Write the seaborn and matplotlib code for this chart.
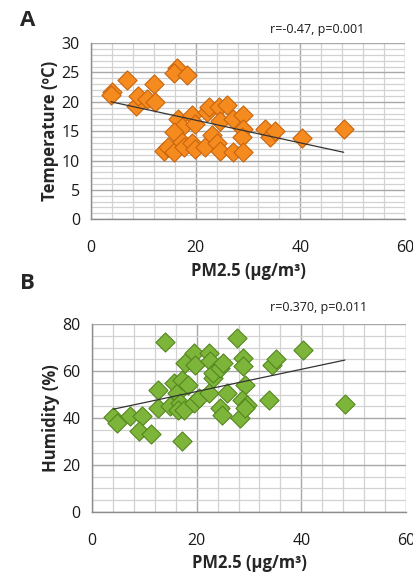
import matplotlib
matplotlib.use("Agg")
import matplotlib.pyplot as plt
from matplotlib.ticker import MultipleLocator
import seaborn as sns

# PM2.5 vs temperature (panel A)
pm_a = [4.0, 3.8, 6.9, 8.5, 9.0, 10.6, 12.1, 12.3, 16.4, 15.8, 18.3, 16.7, 17.4, 15.8,
        19.3, 19.9, 13.9, 14.8, 15.8, 17.4, 17.7, 19.3, 19.9, 21.8, 22.1, 22.5, 23.1,
        24.0, 24.4, 24.7, 24.7, 26.0, 27.2, 27.2, 29.1, 29.1, 28.8, 29.1, 33.3, 34.2,
        35.2, 40.3, 48.3]
temp_a = [21.7, 21.1, 23.7, 19.3, 21.0, 20.4, 23.1, 20.0, 25.8, 24.9, 24.5, 17.1, 15.7,
          14.9, 17.7, 16.3, 11.7, 12.3, 11.5, 13.2, 12.3, 12.9, 12.0, 12.3, 18.3, 19.1,
          14.3, 12.9, 19.1, 16.8, 11.7, 19.4, 17.1, 11.5, 17.7, 15.4, 14.0, 11.5, 15.4,
          14.0, 15.1, 13.8, 15.3]

# PM2.5 vs humidity (panel B)
pm_b = [4.1, 4.8, 7.3, 9.5, 8.9, 11.3, 12.7, 12.7, 14.0, 15.0, 15.6, 16.2, 17.2, 16.9,
        16.5, 17.5, 17.2, 17.8, 18.4, 19.4, 19.7, 19.4, 20.4, 22.3, 22.6, 22.3, 23.2,
        23.2, 24.5, 25.1, 24.5, 24.8, 25.8, 27.7, 28.3, 28.9, 28.9, 29.3, 28.6, 29.6,
        29.3, 33.9, 34.3, 35.2, 40.3, 48.3]
hum_b = [40.4, 37.9, 40.7, 41.0, 34.6, 33.3, 52.1, 44.3, 72.6, 45.0, 54.9, 50.6, 56.3,
         46.4, 43.5, 43.5, 30.4, 63.4, 54.2, 67.7, 62.7, 46.4, 48.5, 67.7, 64.1, 50.6,
         57.0, 59.1, 61.3, 63.4, 44.3, 41.4, 50.6, 74.0, 40.0, 65.5, 62.0, 54.2, 47.8,
         45.7, 44.3, 47.8, 62.7, 65.1, 69.1, 46.1]

sns.set_style("white")
plt.rcParams['font.family'] = ['Open Sans', 'DejaVu Sans']

fig = plt.figure(figsize=(4.14, 5.83), dpi=100)
ax_a = fig.add_axes([0.220, 0.624, 0.758, 0.302])
ax_b = fig.add_axes([0.222, 0.122, 0.759, 0.322])


def style_axis(ax, ymax, ymajor, yminor):
    ax.set_xlim(0, 60)
    ax.set_ylim(0, ymax)
    ax.xaxis.set_major_locator(MultipleLocator(20))
    ax.xaxis.set_minor_locator(MultipleLocator(4))
    ax.yaxis.set_major_locator(MultipleLocator(ymajor))
    ax.yaxis.set_minor_locator(MultipleLocator(yminor))
    ax.grid(which='minor', color='#d2d2d2', lw=0.9)
    ax.grid(which='major', color='#a8a8a8', lw=1.0)
    ax.set_axisbelow(True)
    for s in ['top', 'right']:
        ax.spines[s].set_visible(False)
    for s in ['left', 'bottom']:
        ax.spines[s].set_color('#8c8c8c')
        ax.spines[s].set_linewidth(1.0)
    ax.tick_params(axis='x', which='major', length=0, pad=15, labelsize=11.5)
    ax.tick_params(axis='y', which='major', length=5, width=1, color='#8c8c8c', pad=3,
                   labelsize=11.5)
    ax.tick_params(which='minor', length=0)
    ax.tick_params(which='major', labelcolor='#1a1a1a')


# Panel A
sns.regplot(x=pm_a, y=temp_a, ax=ax_a, scatter=False, ci=None, truncate=True,
            line_kws=dict(color='#333333', lw=0.9, zorder=4))
sns.scatterplot(x=pm_a, y=temp_a, ax=ax_a, marker='D', s=95, color='#f58a1f',
                edgecolor='#c9650e', linewidth=0.8, zorder=3)
style_axis(ax_a, 30, 5, 1)
ax_a.set_xlabel('PM2.5 (µg/m³)', fontsize=12, fontweight='bold', labelpad=4)
ax_a.set_ylabel('Temperature (ºC)', fontsize=12, fontweight='bold', labelpad=2)
ax_a.text(0.72, 1.08, 'r=-0.47, p=0.001', transform=ax_a.transAxes, ha='center',
          va='center', fontsize=9, color='#1a1a1a')
fig.text(0.048, 0.965, 'A', fontsize=16, fontweight='bold', ha='left', va='center')

# Panel B
sns.regplot(x=pm_b, y=hum_b, ax=ax_b, scatter=False, ci=None, truncate=True,
            line_kws=dict(color='#333333', lw=0.9, zorder=4))
sns.scatterplot(x=pm_b, y=hum_b, ax=ax_b, marker='D', s=95, color='#7cb53a',
                edgecolor='#55871f', linewidth=0.8, zorder=3)
style_axis(ax_b, 80, 20, 5)
ax_b.set_xlabel('PM2.5 (µg/m³)', fontsize=12, fontweight='bold', labelpad=4)
ax_b.set_ylabel('Humidity (%)', fontsize=12, fontweight='bold', labelpad=2)
ax_b.text(0.72, 1.09, 'r=0.370, p=0.011', transform=ax_b.transAxes, ha='center',
          va='center', fontsize=9, color='#1a1a1a')
fig.text(0.048, 0.513, 'B', fontsize=16, fontweight='bold', ha='left', va='center')

fig.savefig('out.png', dpi=100)
